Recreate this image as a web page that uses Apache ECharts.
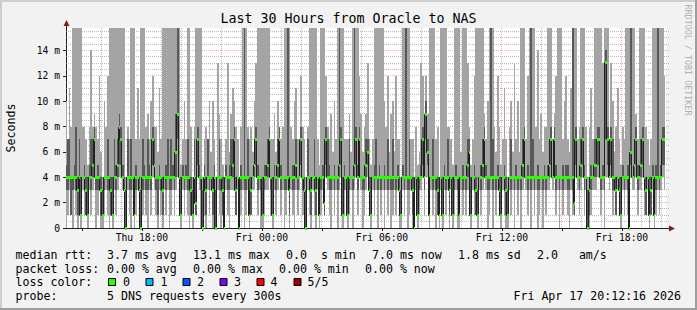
<!DOCTYPE html>
<html><head><meta charset="utf-8">
<script src="https://cdn.jsdelivr.net/npm/echarts@6/dist/echarts.min.js"></script>
<style>html,body{margin:0;padding:0;background:#f2f2f2}#c{width:697px;height:310px}</style>
</head><body><div id="c"></div>
<script>
// time in minutes since Thu 00:00; first 5-minute step starts Thu 14:10
const stepStart = 850;
const stepMinutes = 5;
const xMin = 852.27;   // Thu 14:12:16
const xMax = 2652.27;  // Fri 20:12:16
const yMax = 15.77;    // ms

// median ping (ms), one value per 5 minute step, 12 per hour
const medianMs = [
4,4,4,4,4,4,4,3,4,1,4,4, 3,1,4,4,5,7,4,4,4,3,1,4, 4,4,4,3,1,4,4,5,8,7,4,3,
0,4,4,4,4,1,4,4,3,0,4,4, 4,4,4,4,7,5,4,4,4,4,3,4, 4,4,4,4,4,4,6,9,4,1,4,4,
4,4,4,3,1,4,2,7,4,4,0,4, 3,4,4,4,3,4,0,4,4,4,3,0, 4,4,4,4,5,7,3,4,0,4,4,4,
4,4,1,3,4,5,7,4,4,4,1,4, 4,5,7,4,1,4,4,5,7,4,4,4, 4,4,3,4,4,4,5,4,4,7,4,3,
0,4,4,3,4,4,3,4,1,4,4,2, 7,4,4,4,4,4,4,4,5,7,1,4, 4,1,4,4,4,5,7,4,7,4,4,4,
5,6,3,1,4,4,4,4,4,4,4,4, 4,4,4,4,4,4,4,4,3,1,4,4, 4,4,4,4,3,0,4,1,4,4,7,4,
9,6,1,4,4,4,4,3,1,4,1,4, 4,4,3,4,1,4,4,4,1,4,4,4, 4,5,6,1,4,4,3,1,4,4,5,7,
4,4,4,4,4,4,4,4,3,1,4,4, 3,1,4,4,4,4,4,4,4,4,5,7, 4,4,4,4,4,4,4,4,4,4,4,4,
4,4,5,7,4,7,4,4,4,4,4,4, 4,4,4,4,4,2,7,4,4,5,7,4, 4,0,3,4,4,5,5,7,7,4,4,4,
13.1,7,4,7,4,4,3,4,3,1,4,4, 4,4,0,6,4,5,7,4,4,5,7,4, 3,4,1,3,4,1,4,4,4,4,7,7
];
// fastest of the 5 pings (ms)
const minMs = [
0,1,3,1,0,3,1,0,1,0,3,1, 1,0,3,1,3,4,0,1,3,0,0,1, 3,1,0,1,0,3,1,3,4,4,3,0,
0,3,1,0,3,0,1,3,1,0,1,3, 1,0,3,1,4,3,1,0,3,1,0,3, 1,3,0,1,3,1,3,4,1,0,3,1,
3,1,0,1,0,3,1,4,3,0,0,1, 0,3,1,3,0,1,0,3,1,0,1,0, 3,1,0,3,3,4,1,3,0,1,3,0,
1,3,0,1,3,3,4,1,3,0,0,1, 3,3,4,1,0,3,1,3,4,1,3,0, 1,3,0,3,1,0,3,1,3,4,1,0,
0,3,1,0,3,1,0,3,0,1,3,1, 4,3,1,0,3,1,3,0,3,4,0,1, 3,0,1,3,0,3,4,1,4,3,0,1,
3,4,1,0,3,1,3,0,3,1,3,0, 3,1,3,0,1,3,1,3,0,0,3,1, 3,0,1,3,0,0,3,0,1,3,4,1,
4,4,0,3,1,3,0,1,0,3,0,3, 1,3,0,3,0,1,3,0,0,3,1,3, 1,3,4,0,3,1,1,0,3,1,3,4,
3,0,1,3,0,3,1,3,1,0,3,1, 0,0,3,1,3,0,3,1,3,0,3,4, 3,1,3,0,3,1,3,0,1,3,0,3,
1,3,3,4,3,4,1,3,0,3,1,3, 3,1,0,3,1,1,4,3,1,3,4,1, 3,0,0,1,3,3,3,4,4,1,3,0,
4,4,3,4,1,3,1,3,1,0,3,1, 3,1,0,4,3,3,4,1,3,3,4,1, 1,3,0,1,3,0,1,3,1,3,4,3
];
// second fastest ping (ms)
const lowerMs = [
3,3,4,1,3,4,3,1,3,1,4,3, 1,1,4,3,4,5,3,3,4,1,1,3, 4,3,3,1,1,4,3,4,5,5,4,1,
0,4,3,3,4,1,3,4,1,0,3,4, 3,3,4,3,5,4,3,1,4,3,1,4, 3,4,3,3,4,3,4,7,3,1,4,3,
4,3,3,1,1,4,1,5,4,3,0,3, 1,4,3,4,1,3,0,4,3,3,1,0, 4,3,3,4,4,5,1,4,0,3,4,3,
3,4,1,1,4,4,5,3,4,3,1,3, 4,4,5,3,1,4,3,4,5,3,4,3, 3,4,1,4,3,3,4,3,4,5,3,1,
0,4,3,1,4,3,1,4,1,3,4,1, 5,4,3,3,4,3,4,3,4,5,1,3, 4,1,3,4,3,4,5,3,5,4,3,3,
4,5,1,1,4,3,4,3,4,3,4,3, 4,3,4,3,3,4,3,4,1,1,4,3, 4,3,3,4,1,0,4,1,3,4,5,3,
7,5,1,4,3,4,3,1,1,4,1,4, 3,4,1,4,1,3,4,3,1,4,3,4, 3,4,5,1,4,3,1,1,4,3,4,5,
4,3,3,4,3,4,3,4,1,1,4,3, 1,1,4,3,4,3,4,3,4,3,4,5, 4,3,4,3,4,3,4,3,3,4,3,4,
3,4,4,5,4,5,3,4,3,4,3,4, 4,3,3,4,3,1,5,4,3,4,5,3, 4,0,1,3,4,4,4,5,5,3,4,3,
7,5,4,5,3,4,1,4,1,1,4,3, 4,3,0,5,4,4,5,3,4,4,5,3, 1,4,1,1,4,1,3,4,3,4,5,5
];
// second slowest ping (ms); 20 = above the top of the graph
const upperMs = [
5,7,7,4,4,5,8,4,7,4,4,5, 4,4,5,7,7,8,4,5,4,4,3,4, 4,7,4,4,4,7,5,7,9,8,5,4,
3,7,4,7,4,4,5,4,4,3,7,5, 4,7,5,4,8,7,4,4,5,4,4,4, 5,7,4,7,5,4,9,20,4,4,5,4,
5,7,4,4,3,7,4,8,5,4,3,5, 4,7,4,4,4,5,3,4,7,4,4,1, 5,4,5,7,7,8,4,4,3,5,4,20,
4,7,4,4,4,7,8,5,4,4,4,5, 5,7,8,4,4,5,4,7,8,5,4,4, 4,20,4,4,5,4,7,4,5,8,4,4,
3,7,4,4,4,7,4,4,4,4,5,4, 8,7,5,4,4,5,4,4,20,8,4,5, 4,4,7,4,4,20,8,5,8,4,4,5,
7,7,4,4,4,5,7,4,5,4,4,5, 4,7,4,4,7,4,4,5,4,3,5,4, 20,4,7,4,4,3,4,4,4,5,8,4,
10,7,4,4,7,4,4,4,3,4,4,5, 4,7,4,4,4,4,5,4,3,4,5,4, 4,7,7,4,4,5,4,3,4,5,7,8,
5,4,4,20,7,4,4,5,4,4,4,5, 4,3,4,7,4,4,5,4,4,4,7,8, 4,5,4,20,7,4,4,5,4,4,4,5,
4,5,7,8,4,8,5,4,4,4,5,4, 5,5,4,4,20,4,8,4,4,7,8,5, 4,3,4,5,4,7,7,8,8,4,5,4,
14,8,4,8,7,4,4,4,4,4,5,4, 4,5,3,20,4,7,8,5,4,7,8,4, 4,4,4,4,5,4,5,20,4,5,8,8
];
// slowest ping (ms); 20 = above the top of the graph
const maxMs = [
10,7,11,8,20,20,20,20,20,20,8,8, 7,5,8,14,8,9,8,7,12,6,4,10, 8,12,20,20,20,20,20,20,20,20,20,20,
4,8,7,20,20,20,7,11,7,20,20,20, 8,9,7,10,12,8,8,6,11,7,20,20, 20,20,20,20,20,20,20,20,20,5,7,10,
7,20,20,8,4,8,20,20,20,20,4,7, 8,7,10,6,10,7,4,13,9,7,5,3, 7,13,6,9,11,10,8,7,4,8,20,20,
20,8,7,8,6,10,13,20,20,20,20,20, 20,20,20,7,7,9,6,10,8,7,8,20, 20,20,20,8,7,10,11,7,6,12,8,7,
4,8,20,20,20,20,20,7,5,20,20,20, 12,8,7,9,6,10,7,20,20,20,20,7, 7,7,9,6,20,20,20,20,12,9,6,8,
9,13,7,5,7,20,20,20,20,20,20,10, 8,12,6,9,10,6,12,7,7,4,20,20, 20,20,20,7,7,4,8,5,6,13,12,8,
12,9,20,20,20,20,7,8,4,20,20,20, 20,8,8,7,5,20,20,20,20,6,20,20, 20,13,8,5,7,12,20,20,20,20,20,9,
7,10,20,20,20,8,6,12,8,5,7,11, 7,4,8,10,6,13,7,10,6,20,20,20, 7,12,20,20,20,20,8,14,7,9,6,8,
8,20,20,20,7,9,12,20,20,20,7,10, 12,7,6,11,20,20,20,7,8,20,20,20, 8,4,8,11,7,20,20,20,20,20,13,20,
20,20,7,13,10,6,8,11,7,5,8,7, 20,20,20,20,20,20,9,7,20,20,20,20, 8,7,5,7,20,20,20,20,20,20,20,12
];

const xTickValues = [1080, 1440, 1800, 2160, 2520];
const xTickLabels = ['Thu 18:00', 'Fri 00:00', 'Fri 06:00', 'Fri 12:00', 'Fri 18:00'];
const xMajorGrid = [900, 1080, 1260, 1440, 1620, 1800, 1980, 2160, 2340, 2520];
const xMinorGrid = [960, 1020, 1140, 1200, 1320, 1380, 1500, 1560, 1680, 1740, 1860, 1920, 2040, 2100, 2220, 2280, 2400, 2460, 2580, 2640];
const yMajorGrid = [2, 4, 6, 8, 10, 12, 14];
const yMinorGrid = [0.5, 1, 1.5, 2.5, 3, 3.5, 4.5, 5, 5.5, 6.5, 7, 7.5, 8.5, 9, 9.5, 10.5, 11, 11.5, 12.5, 13, 13.5, 14.5, 15, 15.5];

const legendRtt = ['3.7 ms avg', '13.1 ms max', '0.0  s min', '7.0 ms now', '1.8 ms sd', '2.0   am/s'];
const legendLoss = ['0.00 % avg', '0.00 % max', '0.00 % min', '0.00 % now'];
const lossLabels = ['0', '1', '2', '3', '4', '5/5'];
const lossColors = ['#26ff00', '#00b8ff', '#0059ff', '#7e00ff', '#ff0000', '#a10000'];

const N = medianMs.length;
const times = [];
for (let i = 0; i <= N; i++) times.push(stepStart + i * stepMinutes);

const FONT = '"DejaVu Sans Mono", monospace';
const clampX = t => Math.min(Math.max(t, xMin), xMax);
const clampY = v => Math.min(Math.max(v, 0), yMax);
function px(api, t, v) {
  const p = api.coord([clampX(t), clampY(v)]);
  return [Math.round(p[0]), Math.round(p[1])];
}
function bandPoints(api, lower, upper) {
  const pts = [];
  for (let i = 0; i < N; i++) {
    pts.push(px(api, times[i], upper[i]), px(api, times[i + 1], upper[i]));
  }
  for (let i = N - 1; i >= 0; i--) {
    pts.push(px(api, times[i + 1], lower[i]), px(api, times[i], lower[i]));
  }
  return pts;
}

const chart = echarts.init(document.getElementById('c'), null, { renderer: 'svg', width: 697, height: 310 });

const gridSeries = {
  type: 'custom', name: 'grid', z: 1, silent: true, animation: false,
  data: [[xMin, 0]],
  renderItem: (params, api) => {
    const cs = params.coordSys;
    const children = [];
    const minor = 'rgba(143,143,143,0.6)', major = 'rgba(222,79,79,0.45)';
    const hLine = (v, c) => {
      const y = Math.floor(api.coord([xMin, v])[1]) + 0.5;
      children.push({ type: 'line', shape: { x1: cs.x, y1: y, x2: cs.x + cs.width + 3, y2: y }, style: { stroke: c, lineWidth: 1, lineDash: [1, 1] } });
    };
    const vLine = (t, c) => {
      const x = Math.floor(api.coord([t, 0])[0]) + 0.5;
      children.push({ type: 'line', shape: { x1: x, y1: cs.y, x2: x, y2: cs.y + cs.height }, style: { stroke: c, lineWidth: 1, lineDash: [1, 1] } });
    };
    yMinorGrid.forEach(v => hLine(v, minor));
    xMinorGrid.forEach(t => vLine(t, minor));
    yMajorGrid.forEach(v => hLine(v, major));
    xMajorGrid.forEach(t => vLine(t, major));
    return { type: 'group', children };
  }
};

const smokeSeries = {
  type: 'custom', name: 'smoke', z: 2, silent: true, animation: false,
  data: [[xMin, 0]],
  renderItem: (params, api) => ({
    type: 'group',
    children: [
      { type: 'polygon', shape: { points: bandPoints(api, minMs, maxMs) }, style: { fill: '#a4a4a4' } },
      { type: 'polygon', shape: { points: bandPoints(api, lowerMs, upperMs) }, style: { fill: '#585858' } }
    ]
  })
};

const medianSeries = {
  type: 'custom', name: 'median', z: 3, silent: true, animation: false,
  data: [[xMin, 0]],
  renderItem: (params, api) => {
    const line = [];
    const top = [], bot = [];
    for (let i = 0; i < N; i++) {
      const a = px(api, times[i], medianMs[i]);
      const b = px(api, times[i + 1], medianMs[i]);
      line.push([a[0] - 0.5, a[1] + 0.5], [b[0] - 0.5, b[1] + 0.5]);
      top.push([a[0], a[1] - 1], [b[0], b[1] - 1]);
      bot.push([a[0], a[1] + 2], [b[0], b[1] + 2]);
    }
    const green = top.concat(bot.reverse());
    return {
      type: 'group',
      children: [
        { type: 'polyline', shape: { points: line }, style: { stroke: '#202020', lineWidth: 1, fill: null } },
        { type: 'polygon', shape: { points: green }, style: { fill: lossColors[0] } }
      ]
    };
  }
};

const txt = (text, x, y, extra) => Object.assign({
  type: 'text', x, y, silent: true,
  style: Object.assign({ text, font: '11.6px ' + FONT, fill: '#000', textAlign: 'left', textVerticalAlign: 'middle' }, extra || {})
});
const legendX = [107, 193, 286, 372, 458, 537];
const lossX = [107, 193, 279, 365];
const sqX = [108, 145.5, 182.5, 219.5, 256.5, 293.5];
const labX = [123, 160.5, 197, 234, 270.5, 307.5];
const rowY = [254.8, 268.5, 282.3, 296];

const graphics = [
  { type: 'rect', silent: true, shape: { x: 0, y: 0, width: 697, height: 2 }, style: { fill: '#cecece' } },
  { type: 'rect', silent: true, shape: { x: 0, y: 0, width: 2, height: 310 }, style: { fill: '#cecece' } },
  { type: 'rect', silent: true, shape: { x: 0, y: 308, width: 697, height: 2 }, style: { fill: '#9e9e9e' } },
  { type: 'rect', silent: true, shape: { x: 695, y: 0, width: 2, height: 310 }, style: { fill: '#9e9e9e' } },
  { type: 'line', silent: true, shape: { x1: 66.5, y1: 24, x2: 66.5, y2: 28 }, style: { stroke: '#1f1f1f', lineWidth: 1 } },
  { type: 'line', silent: true, shape: { x1: 666, y1: 228.5, x2: 670, y2: 228.5 }, style: { stroke: '#1f1f1f', lineWidth: 1 } },
  { type: 'polygon', silent: true, shape: { points: [[66.5, 20], [63.5, 26], [69.5, 26]] }, style: { fill: '#801f1f' } },
  { type: 'polygon', silent: true, shape: { points: [[675, 228.5], [669, 225.5], [669, 231.5]] }, style: { fill: '#801f1f' } },
  txt('Seconds', 10.5, 128, { textAlign: 'center' }),
  txt('RRDTOOL / TOBI OETIKER', 687.5, 60, { textAlign: 'center', font: '8.4px ' + FONT, fill: '#b0b0b0' }),
  txt('median rtt:', 15.5, rowY[0]),
  txt('packet loss:', 15.5, rowY[1]),
  txt('loss color:', 15.5, rowY[2]),
  txt('probe:', 15.5, rowY[3]),
  txt('5 DNS requests every 300s', 107, rowY[3]),
  txt('Fri Apr 17 20:12:16 2026', 681, rowY[3], { textAlign: 'right' })
];
graphics[8].rotation = Math.PI / 2;
graphics[9].rotation = -Math.PI / 2;
legendRtt.forEach((s, i) => graphics.push(txt(s, legendX[i], rowY[0])));
legendLoss.forEach((s, i) => graphics.push(txt(s, lossX[i], rowY[1])));
lossLabels.forEach((s, i) => {
  graphics.push({ type: 'rect', silent: true, shape: { x: sqX[i] + 0.5, y: 278.5, width: 7, height: 7 }, style: { fill: lossColors[i], stroke: '#000', lineWidth: 1 } });
  graphics.push(txt(s, labX[i], rowY[2]));
});

chart.setOption({
  animation: false,
  backgroundColor: '#f2f2f2',
  title: {
    text: 'Last 30 Hours from Oracle to NAS', left: 'center', top: 12, padding: 0,
    textStyle: { fontFamily: FONT, fontSize: 13.3, fontWeight: 'normal', color: '#000' }
  },
  grid: { left: 66, top: 28, width: 600, height: 200, show: true, backgroundColor: '#ffffff', borderWidth: 0 },
  xAxis: {
    type: 'value', min: xMin, max: xMax,
    axisLine: { show: true, lineStyle: { color: '#1f1f1f', width: 1 } },
    axisTick: { show: true, customValues: xMajorGrid, length: 3, lineStyle: { color: '#1f1f1f' } },
    axisLabel: {
      customValues: xTickValues, margin: 4, color: '#000', fontFamily: FONT, fontSize: 9.7,
      formatter: v => xTickLabels[xTickValues.indexOf(v)] || ''
    },
    splitLine: { show: false }
  },
  yAxis: {
    type: 'value', min: 0, max: yMax, interval: 2,
    axisLine: { show: true, lineStyle: { color: '#1f1f1f', width: 1 } },
    axisTick: { show: true, length: 3, lineStyle: { color: '#1f1f1f' } },
    axisLabel: {
      margin: 6, color: '#000', fontFamily: FONT, fontSize: 9.7, showMaxLabel: false,
      formatter: v => v === 0 ? '0' : v + ' m'
    },
    splitLine: { show: false }
  },
  series: [gridSeries, smokeSeries, medianSeries],
  graphic: graphics
});
</script>
</body></html>
